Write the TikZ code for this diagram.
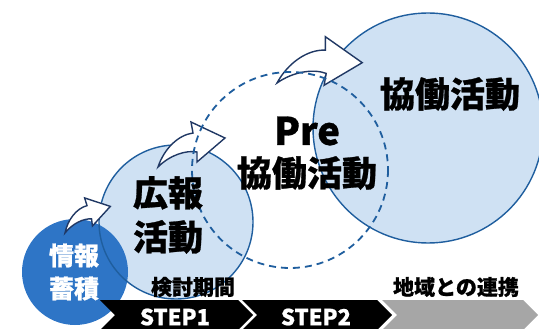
\documentclass[tikz,border=0pt]{standalone}
\usepackage{fontspec}
\setmainfont{Noto Sans CJK JP}[BoldFeatures={FakeBold=0.8}]
\definecolor{lightfill}{HTML}{CFE1F3}
\definecolor{edgeblue}{HTML}{1F5E9E}
\definecolor{darkfill}{HTML}{2E75C6}
\definecolor{navy}{HTML}{203864}
\definecolor{bargray}{HTML}{A6A6A6}
\begin{document}
\begin{tikzpicture}[x=1pt,y=-1pt,
  bigcirc/.style={fill=lightfill},
  edge/.style={draw=edgeblue,line width=1.4pt},
  dashcirc/.style={draw=edgeblue,line width=1.8pt,dash pattern=on 7pt off 5pt},
  arrowline/.style={fill=white,draw=navy,line width=1.4pt,line join=miter},
  bigtext/.style={font=\bfseries\fontsize{35}{44}\selectfont,text=black,inner sep=0pt,align=center},
  whitetext/.style={font=\bfseries\fontsize{25}{33}\selectfont,text=white,inner sep=0pt,align=center},
  labeltext/.style={font=\bfseries\fontsize{21}{24}\selectfont,text=black,inner sep=0pt},
  steptext/.style={font=\bfseries\fontsize{22}{24}\selectfont,text=white,inner sep=0pt},
  curvearrow/.pic={\draw[arrowline] (0,0) .. controls (6,-18) and (20,-32) .. (35,-34)
      -- (33,-45) -- (67,-29) -- (39,-5) -- (39,-15)
      .. controls (28,-17) and (12,-12) .. (0,0) -- cycle;}
]
\useasboundingbox (0,0) rectangle (539,329);
% circles
\fill[bigcirc] (428,128) circle (115);
\draw[edge] (428,128) circle (115);
\fill[bigcirc] (176,222) circle (77);
\fill[darkfill] (75,272) circle (53);
\draw[edge] (176,222) circle (77);
% arrows
\pic[scale=0.72,rotate=7] at (65,233) {curvearrow};
\pic at (158,167) {curvearrow};
\pic[scale=1.2,rotate=-10] at (277,83) {curvearrow};
% dashed circle
\draw[dashcirc] (290,170) circle (98);
% texts
\node[whitetext] (joho) at (74,272) {情報\\蓄積};
\node[bigtext] (kouhou) at (168,215) {広報\\活動};
\node[font=\bfseries\fontsize{38}{40}\selectfont,inner sep=0pt] (pre) at (307,131) {Pre};
\node[bigtext] (prekyodo) at (307,173) {協働活動};
\node[bigtext] (kyodo) at (450,94) {協働活動};
% step bar
\fill[black] (100,300) -- (238,300) -- (253,315) -- (238,330) -- (100,330) -- (115,315) -- cycle;
\fill[black] (242,300) -- (377,300) -- (392,315) -- (377,330) -- (242,330) -- (257,315) -- cycle;
\fill[bargray] (382,300) -- (523,300) -- (538,315) -- (523,330) -- (382,330) -- (397,315) -- cycle;
\node[steptext] (step1) at (175,317) {STEP1};
\node[steptext] (step2) at (316,317) {STEP2};
\node[labeltext] (kento) at (193,287) {検討期間};
\node[labeltext] (chiiki) at (456,287) {地域との連携};
\end{tikzpicture}
\end{document}
